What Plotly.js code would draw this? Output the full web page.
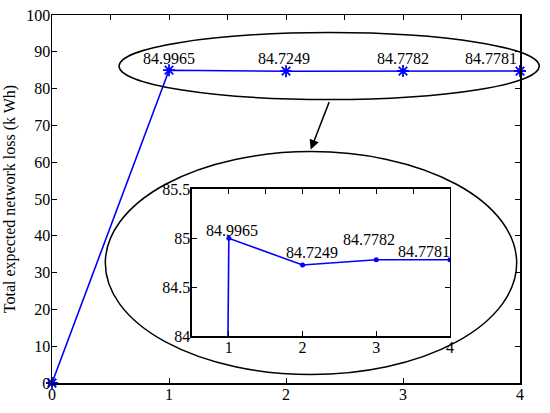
<!DOCTYPE html>
<html>
<head>
<meta charset="utf-8">
<script src="https://cdn.plot.ly/plotly-3.0.1.min.js"></script>
<style>
  html, body { margin: 0; padding: 0; background: #fff; }
  #loss-plot { width: 550px; height: 413px; }
</style>
</head>
<body>
<div id="loss-plot"></div>
<script>
// iterations and total expected network loss (kWh)
const iterations = [0, 1, 2, 3, 4];
const networkLoss = [0, 84.9965, 84.7249, 84.7782, 84.7781];
const lossLabels = ['84.9965', '84.7249', '84.7782', '84.7781'];

const mainTicks = [0, 10, 20, 30, 40, 50, 60, 70, 80, 90, 100];
const insetTicks = [84, 84.5, 85, 85.5];

// where the value labels sit (data coords of each axes)
const mainLabelX = [1.0, 1.983, 3.004, 3.748];
const mainLabelY = 88.2;
const insetLabelX = [1.039, 2.124, 2.904, 3.65];
const insetLabelY = [85.079, 84.851, 84.987, 84.867];

const serif = 'Liberation Serif, Times New Roman, serif';
const tickFont = {family: serif, size: 16, color: '#000'};

const data = [
  {
    x: iterations,
    y: networkLoss,
    xaxis: 'x',
    yaxis: 'y',
    type: 'scatter',
    mode: 'lines+markers',
    line: {color: '#0000ff', width: 1.6},
    marker: {symbol: 'asterisk-open', size: 10, color: '#0000ff', line: {color: '#0000ff', width: 1.8}},
    cliponaxis: false,
    hoverinfo: 'skip'
  },
  {
    x: iterations,
    y: networkLoss,
    xaxis: 'x2',
    yaxis: 'y2',
    type: 'scatter',
    mode: 'lines+markers',
    line: {color: '#0000ff', width: 1.6},
    marker: {symbol: 'circle', size: 5, color: '#0000ff'},
    hoverinfo: 'skip'
  },
  // empty traces so the top tick axes get drawn
  {x: [], y: [], xaxis: 'x3', yaxis: 'y', type: 'scatter', mode: 'lines', hoverinfo: 'skip'},
  {x: [], y: [], xaxis: 'x4', yaxis: 'y2', type: 'scatter', mode: 'lines', hoverinfo: 'skip'}
];

const annotations = [];
lossLabels.forEach((txt, i) => {
  annotations.push({
    xref: 'x', yref: 'y', x: mainLabelX[i], y: mainLabelY,
    text: txt, showarrow: false, font: tickFont
  });
  annotations.push({
    xref: 'x2', yref: 'y2', x: insetLabelX[i], y: insetLabelY[i],
    text: txt, showarrow: false, font: tickFont
  });
});
// arrow from the upper ellipse to the zoomed view
annotations.push({
  xref: 'paper', yref: 'paper', x: 0.5528, y: 0.6342,
  ax: 19, ay: -49, axref: 'pixel', ayref: 'pixel',
  text: '', showarrow: true, arrowhead: 2, arrowsize: 1.3, arrowwidth: 1.5, arrowcolor: '#000'
});

const axisBase = {
  showgrid: false,
  zeroline: false,
  showline: true,
  linecolor: '#000',
  linewidth: 1.5,
  tickcolor: '#000',
  tickwidth: 1,
  ticklen: 5,
  ticks: 'inside',
  tickfont: tickFont
};

const layout = {
  width: 550,
  height: 413,
  autosize: false,
  showlegend: false,
  paper_bgcolor: '#fff',
  plot_bgcolor: '#fff',
  margin: {l: 52, r: 30, t: 14.7, b: 30.3, pad: 0},

  xaxis: Object.assign({}, axisBase, {
    domain: [0, 1], range: [0, 4], tickvals: [0, 1, 2, 3, 4], anchor: 'y', ticklabelstandoff: -4
  }),
  xaxis3: Object.assign({}, axisBase, {
    overlaying: 'x', side: 'top', anchor: 'y', range: [0, 4], dtick: 0.5, tick0: 0, showticklabels: false
  }),
  yaxis: Object.assign({}, axisBase, {
    domain: [0, 1], range: [0, 100], tickvals: mainTicks, anchor: 'x', mirror: 'ticks', ticklabelstandoff: -3,
    title: {text: 'Total expected network loss (k Wh)', font: {family: serif, size: 16, color: '#000'}, standoff: 6}
  }),

  xaxis2: Object.assign({}, axisBase, {
    domain: [0.2991, 0.8504], range: [0.5, 4], tickvals: [1, 2, 3, 4], anchor: 'y2', ticklabelstandoff: -4
  }),
  xaxis4: Object.assign({}, axisBase, {
    overlaying: 'x2', side: 'top', anchor: 'y2', range: [0.5, 4], dtick: 0.5, tick0: 0, showticklabels: false
  }),
  yaxis2: Object.assign({}, axisBase, {
    domain: [0.1277, 0.5272], range: [84, 85.5], tickvals: insetTicks, anchor: 'x2', mirror: 'ticks', ticklabelstandoff: -3
  }),

  shapes: [
    {type: 'circle', xref: 'paper', yref: 'paper', x0: 0.1432, x1: 1.0412, y0: 0.7701, y1: 0.9522,
     line: {color: '#000', width: 1.5}},
    {type: 'circle', xref: 'paper', yref: 'paper', x0: 0.1139, x1: 0.9929, y0: 0.0228, y1: 0.6288,
     line: {color: '#000', width: 1.5}, layer: 'below'}
  ],
  annotations: annotations
};

Plotly.newPlot('loss-plot', data, layout, {displayModeBar: false, staticPlot: true});
</script>
</body>
</html>
